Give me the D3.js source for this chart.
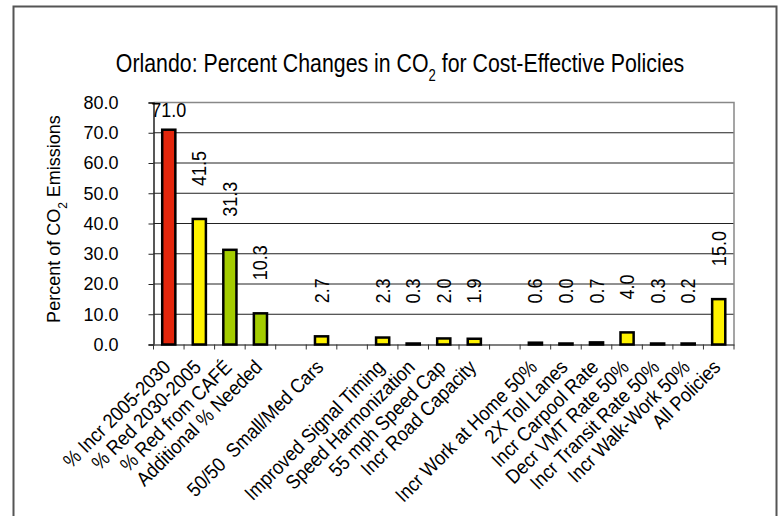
<!DOCTYPE html>
<html>
<head>
<meta charset="utf-8">
<script src="https://cdn.jsdelivr.net/npm/d3@7"></script>
<style>
  body { margin: 0; background: #fff; }
  text { font-family: "Liberation Sans", Arial, sans-serif; fill: #000; }
</style>
</head>
<body>
<div id="chart"></div>
<script>
// data ("" = empty slot)
var categories = ["% Incr 2005-2030", "% Red 2030-2005", "% Red from CAFÉ", "Additional % Needed", "",
  "50/50  Small/Med Cars", "", "Improved Signal Timing", "Speed Harmonization", "55 mph Speed Cap",
  "Incr Road Capacity", "", "Incr Work at Home 50%", "2X Toll Lanes", "Incr Carpool Rate",
  "Decr VMT Rate 50%", "Incr Transit Rate 50%", "Incr Walk-Work 50%", "All Policies"];
var values = [71.0, 41.5, 31.3, 10.3, null, 2.7, null, 2.3, 0.3, 2.0, 1.9, null, 0.6, 0.0, 0.7, 4.0, 0.3, 0.2, 15.0];
var barGroups = ["red", "yellow", "green", "green", "", "yellow", "", "yellow", "yellow", "yellow",
  "yellow", "", "yellow", "yellow", "yellow", "yellow", "yellow", "yellow", "yellow"];
var yTicks = [0, 10, 20, 30, 40, 50, 60, 70, 80];

var colors = { red: "#e3260c", yellow: "#fff200", green: "#a4cc00" };

var svgWidth = 783;
var svgHeight = 516;
var margin = { top: 102.5, right: 49, bottom: 171.5, left: 153.5 };
var width = svgWidth - margin.left - margin.right;
var height = svgHeight - margin.top - margin.bottom;

// the original font is a condensed one, so squeeze along the text
var squeeze = 0.9;

var svg = d3.select("#chart")
  .append("svg")
  .attr("width", svgWidth)
  .attr("height", svgHeight);

// outer frame
svg.append("rect")
  .attr("x", 13.5).attr("y", 6.5)
  .attr("width", 763).attr("height", 540)
  .attr("fill", "none")
  .attr("stroke", "#555")
  .attr("stroke-width", 2);

// title
var title = svg.append("text")
  .attr("transform", "translate(400, 72) scale(0.82, 1)")
  .attr("text-anchor", "middle")
  .attr("font-size", "26px");
title.append("tspan").text("Orlando: Percent Changes in CO");
title.append("tspan").attr("baseline-shift", "sub").attr("font-size", "16px").text("2");
title.append("tspan").text(" for Cost-Effective Policies");

var chartGroup = svg.append("g")
  .attr("transform", `translate(${margin.left}, ${margin.top})`);

var xScale = d3.scaleBand()
  .domain(d3.range(categories.length))
  .range([0, width])
  .paddingInner(0.57)
  .paddingOuter(0.285);

var yScale = d3.scaleLinear()
  .domain([0, 80])
  .range([height, 0]);

// gridlines
chartGroup.selectAll(".grid")
  .data(yTicks.slice(1, -1))
  .enter()
  .append("line")
  .attr("x1", 0)
  .attr("x2", width)
  .attr("y1", d => yScale(d))
  .attr("y2", d => yScale(d))
  .attr("stroke", "#222")
  .attr("stroke-width", 1);

// plot border top + right
chartGroup.append("path")
  .attr("d", `M0,0H${width}V${height}`)
  .attr("fill", "none")
  .attr("stroke", "#888")
  .attr("stroke-width", 1.5);

// y axis
var leftAxis = d3.axisLeft(yScale)
  .tickValues(yTicks)
  .tickFormat(d3.format(".1f"))
  .tickSize(5)
  .tickPadding(30);

var yAxis = chartGroup.append("g").call(leftAxis);
yAxis.select(".domain").attr("stroke", "#222").attr("stroke-width", 1.5);
yAxis.selectAll(".tick line").attr("stroke", "#222");
yAxis.selectAll("text").attr("font-size", "18px").attr("font-family", null);

// x axis ticks at band boundaries
var step = xScale.step();
var bottomAxis = d3.axisBottom(xScale)
  .tickSize(0)
  .tickFormat("");

var xAxis = chartGroup.append("g")
  .attr("transform", `translate(0, ${height})`)
  .call(bottomAxis);
xAxis.select(".domain").attr("stroke", "#555").attr("stroke-width", 1.5);

xAxis.selectAll(".sep")
  .data(d3.range(categories.length + 1))
  .enter()
  .append("line")
  .attr("x1", d => d * step)
  .attr("x2", d => d * step)
  .attr("y1", 0)
  .attr("y2", 5)
  .attr("stroke", "#333");

// category labels at -45
chartGroup.selectAll(".catLabel")
  .data(categories)
  .enter()
  .append("text")
  .attr("transform", (d, i) => `translate(${xScale(i) + xScale.bandwidth() / 2 + 3}, ${height + 24}) rotate(-45) scale(${squeeze}, 1)`)
  .attr("text-anchor", "end")
  .attr("font-size", "20px")
  .style("white-space", "pre")
  .text(d => d);

// bars
var bars = categories.map((c, i) => ({ i: i, v: values[i], g: barGroups[i] })).filter(d => d.v !== null);

chartGroup.selectAll(".bar")
  .data(bars)
  .enter()
  .append("rect")
  .attr("x", d => xScale(d.i))
  .attr("width", xScale.bandwidth())
  .attr("y", d => Math.min(yScale(d.v), height - 1))
  .attr("height", d => Math.max(height - yScale(d.v), 1))
  .attr("fill", d => colors[d.g])
  .attr("stroke", "#000")
  .attr("stroke-width", 2.5);

// value labels: rotated, or flat when no room
var labelGap = 33;
bars.forEach(function(d) {
  var cx = xScale(d.i) + xScale.bandwidth() / 2;
  var top = yScale(d.v);
  var t = chartGroup.append("text")
    .attr("font-size", "20px")
    .text(d3.format(".1f")(d.v));
  var len = t.node().getComputedTextLength() * squeeze;
  if (top - labelGap - len < 0) {
    t.attr("transform", `translate(${cx}, ${top - 13}) scale(${squeeze}, 1)`)
      .attr("text-anchor", "middle");
  } else {
    t.attr("transform", `translate(${cx}, ${Math.min(top, height - 8) - labelGap}) rotate(-90) scale(${squeeze}, 1)`)
      .attr("dy", "0.35em");
  }
});

// y axis title
var yTitle = svg.append("text")
  .attr("transform", "translate(60, 219) rotate(-90)")
  .attr("text-anchor", "middle")
  .attr("font-size", "18px");
yTitle.append("tspan").text("Percent of CO");
yTitle.append("tspan").attr("baseline-shift", "sub").attr("font-size", "12px").text("2");
yTitle.append("tspan").text(" Emissions");
</script>
</body>
</html>
